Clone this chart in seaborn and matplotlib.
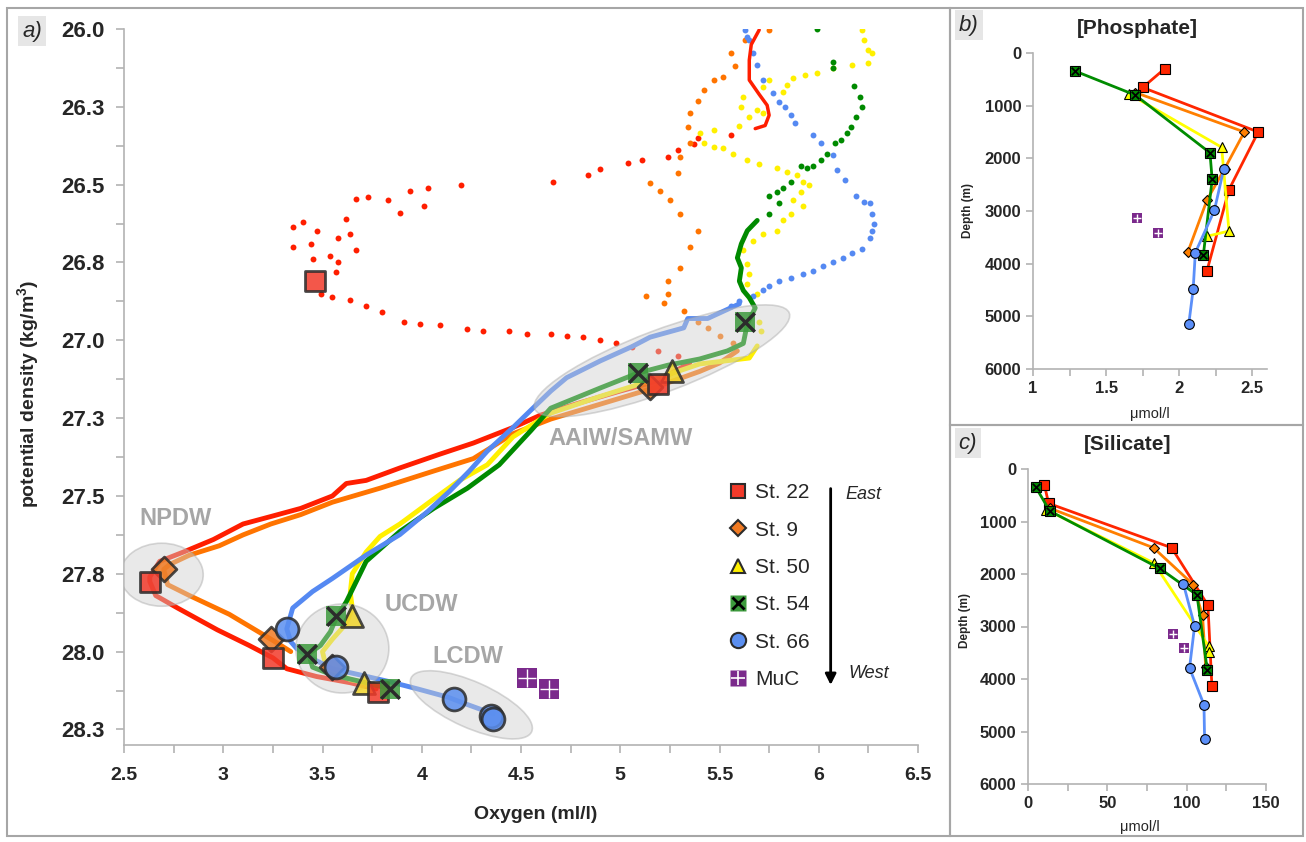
import numpy as np
import pandas as pd
import seaborn as sns
import matplotlib.pyplot as plt
from matplotlib.patches import Ellipse, Rectangle
from matplotlib.lines import Line2D
from matplotlib.legend_handler import HandlerTuple
from matplotlib.ticker import MultipleLocator, FixedLocator, FixedFormatter, FuncFormatter
from matplotlib.transforms import ScaledTranslation

# ---------------- panel a: oxygen vs potential density ----------------
st22_top_ox = [5.70, 5.66, 5.65, 5.65, 5.70, 5.74, 5.75, 5.73, 5.68]
st22_top_sig = [26.003, 26.05, 26.10, 26.164, 26.21, 26.245, 26.277, 26.31, 26.32]
st22_dots_ox = [5.56, 5.39, 5.37, 5.29, 5.24, 5.11, 5.04,
                4.90, 4.84, 4.66, 4.20, 4.03, 3.94, 4.01, 3.89, 3.83, 3.73, 3.67, 3.62, 3.40, 3.35, 3.47, 3.64,
                3.58, 3.35, 3.44, 3.67, 3.45, 3.54, 3.58, 3.57, 3.49, 3.55, 3.64, 3.72, 3.80, 3.91, 3.99, 4.09,
                4.23, 4.31, 4.44, 4.53, 4.65, 4.73, 4.81, 4.90, 4.98, 5.06, 5.19, 5.29]
st22_dots_sig = [26.34, 26.35, 26.37, 26.39,
                 26.41, 26.42, 26.43, 26.45, 26.47, 26.49, 26.50, 26.51, 26.52, 26.57, 26.59, 26.55, 26.54,
                 26.545, 26.61, 26.62, 26.635, 26.65, 26.66, 26.67, 26.70, 26.69, 26.71, 26.74, 26.73, 26.75,
                 26.78, 26.85, 26.86, 26.87, 26.89, 26.91, 26.94, 26.947, 26.95, 26.963, 26.97, 26.97, 26.98,
                 26.98, 26.986, 26.99, 27.00, 27.01, 27.02, 27.034, 27.05]
st22_line_ox = [5.35, 5.19, 5.00, 4.80, 4.60, 4.46, 4.26, 4.09, 3.89, 3.72, 3.62, 3.55, 3.39, 3.24, 3.10, 2.95,
                2.80, 2.68, 2.63, 2.63, 2.66, 2.77, 2.97, 3.13, 3.25, 3.32, 3.47, 3.64, 3.77]
st22_line_sig = [27.073, 27.13, 27.163, 27.20, 27.24, 27.28, 27.33, 27.366, 27.41, 27.45, 27.46, 27.50, 27.54,
                 27.566, 27.59, 27.64, 27.68, 27.71, 27.76, 27.775, 27.82, 27.86, 27.93, 27.98, 28.02, 28.055,
                 28.08, 28.10, 28.12]
st22_mk_ox = [3.46, 5.19, 2.63, 3.25, 3.78]
st22_mk_sig = [26.81, 27.14, 27.775, 28.02, 28.13]

st9_dots_ox = [5.75, 5.63, 5.56, 5.58, 5.52, 5.47, 5.42, 5.39, 5.35, 5.34, 5.35, 5.30, 5.29, 5.15, 5.20, 5.25,
               5.30, 5.39, 5.35, 5.30, 5.24, 5.24, 5.13, 5.22, 5.32, 5.39, 5.44, 5.50, 5.57]
st9_dots_sig = [26.003, 26.035, 26.077, 26.12, 26.155, 26.164, 26.197, 26.23, 26.27, 26.316, 26.367, 26.41,
                26.464, 26.496, 26.52, 26.55, 26.593, 26.648, 26.70, 26.767, 26.81, 26.85, 26.857, 26.88,
                26.905, 26.94, 26.96, 26.986, 27.01]
st9_line_ox = [5.59, 5.50, 5.40, 5.15, 4.90, 4.65, 4.46, 4.26, 4.06, 3.79, 3.55, 3.39, 3.24, 3.10, 2.98, 2.83,
               2.73, 2.70, 2.72, 2.83, 3.03, 3.24, 3.34]
st9_line_sig = [27.034, 27.073, 27.10, 27.157, 27.205, 27.253, 27.30, 27.38, 27.42, 27.475, 27.52, 27.56, 27.59,
                27.625, 27.66, 27.69, 27.72, 27.736, 27.785, 27.82, 27.88, 27.96, 28.00]
st9_mk_ox = [5.15, 2.70, 3.24, 3.55]
st9_mk_sig = [27.15, 27.736, 27.96, 28.05]

st50_dots_ox = [6.22, 6.23, 6.25, 6.27, 6.25, 6.17, 6.07, 5.99, 5.93, 5.87, 5.84, 5.82, 5.75, 5.72, 5.62, 5.61,
                5.65, 5.69, 5.72, 5.60, 5.47, 5.40, 5.42, 5.47, 5.52, 5.57, 5.64, 5.70, 5.79, 5.84, 5.89, 5.92,
                5.95, 5.91, 5.87, 5.92, 5.86, 5.82, 5.79, 5.72, 5.67, 5.62, 5.64, 5.65, 5.64, 5.69, 5.70, 5.71]
st50_dots_sig = [26.003, 26.035, 26.068, 26.077, 26.11, 26.116, 26.126, 26.14, 26.148, 26.158, 26.18, 26.203,
                 26.164, 26.187, 26.22, 26.25, 26.283, 26.26, 26.27, 26.31, 26.325, 26.335, 26.367, 26.38,
                 26.383, 26.40, 26.42, 26.435, 26.445, 26.46, 26.47, 26.49, 26.50, 26.525, 26.55, 26.567,
                 26.593, 26.615, 26.648, 26.657, 26.68, 26.71, 26.754, 26.786, 26.818, 26.85, 26.94, 26.97]
st50_line_ox = [5.69, 5.65, 5.40, 5.15, 4.90, 4.65, 4.60, 4.46, 4.33, 4.19, 4.06, 3.89, 3.79, 3.72, 3.65, 3.64,
                3.65, 3.62, 3.55, 3.50, 3.52, 3.64, 3.72]
st50_line_sig = [27.018, 27.057, 27.076, 27.13, 27.18, 27.234, 27.253, 27.31, 27.40, 27.45, 27.51, 27.59, 27.63,
                 27.68, 27.75, 27.81, 27.86, 27.91, 27.96, 28.00, 28.055, 28.09, 28.10]
st50_mk_ox = [5.26, 3.65, 3.71]
st50_mk_sig = [27.10, 27.885, 28.10]

st54_dots_ox = [5.99, 6.07, 6.07, 6.18, 6.21, 6.22, 6.19, 6.16, 6.14, 6.11, 6.08, 6.04, 6.01, 5.97, 5.94, 5.91,
                5.86, 5.82, 5.79, 5.75, 5.80, 5.75]
st54_dots_sig = [26.00, 26.106, 26.126, 26.184, 26.22, 26.25, 26.283, 26.316, 26.335, 26.358, 26.367, 26.40,
                 26.42, 26.44, 26.448, 26.44, 26.49, 26.51, 26.525, 26.535, 26.56, 26.593]
st54_line_ox = [5.69, 5.64, 5.61, 5.59, 5.61, 5.60, 5.62, 5.65, 5.68, 5.64, 5.62, 5.54, 5.40, 5.24, 5.09, 4.90,
                4.65, 4.55, 4.39, 4.23, 4.06, 3.89, 3.72, 3.62, 3.57, 3.54, 3.49, 3.43, 3.45, 3.55, 3.72,
                3.84]
st54_line_sig = [26.615, 26.648, 26.69, 26.735, 26.767, 26.81, 26.84, 26.863, 26.896, 26.947, 27.01, 27.034,
                 27.06, 27.08, 27.105, 27.153, 27.218, 27.29, 27.40, 27.475, 27.54, 27.614, 27.71,
                 27.84, 27.89, 27.936, 27.98, 28.007, 28.05, 28.075, 28.10, 28.12]
st54_mk_ox = [5.63, 5.09, 3.57, 3.42, 3.84]
st54_mk_sig = [26.94, 27.105, 27.885, 28.007, 28.12]

st66_dots_ox = [5.63, 5.64, 5.65, 5.67, 5.69, 5.72, 5.77, 5.80, 5.83, 5.86, 5.88, 5.97, 6.01, 6.07, 6.09, 6.13,
                6.19, 6.23, 6.26, 6.27, 6.28, 6.27, 6.26, 6.22, 6.17, 6.12, 6.07, 6.02, 5.97, 5.92, 5.86, 5.80,
                5.75, 5.72, 5.67, 5.60, 5.56]
st66_dots_sig = [26.003, 26.026, 26.035, 26.077, 26.116, 26.164, 26.206, 26.235, 26.25, 26.277, 26.303, 26.34,
                 26.367, 26.406, 26.454, 26.486, 26.535, 26.557, 26.56, 26.593, 26.625, 26.648, 26.67, 26.706,
                 26.718, 26.735, 26.75, 26.76, 26.776, 26.786, 26.80, 26.81, 26.825, 26.84, 26.857, 26.873,
                 26.89]
st66_line_ox = [5.60, 5.44, 5.34, 5.32, 5.15, 5.06, 4.90, 4.73, 4.65, 4.56, 4.46, 4.33, 4.24, 4.14, 4.03, 3.89,
                3.72, 3.55, 3.45, 3.35, 3.32, 3.34, 3.37, 3.45, 3.55, 3.69, 3.84, 3.98, 4.13, 4.23, 4.36]
st66_line_sig = [26.883, 26.93, 26.93, 26.96, 26.99, 27.02, 27.066, 27.12, 27.163, 27.218, 27.28, 27.356, 27.42,
                 27.485, 27.55, 27.624, 27.69, 27.765, 27.807, 27.86, 27.927, 27.968, 27.99, 28.023, 28.055,
                 28.075, 28.097, 28.12, 28.146, 28.17, 28.20]
st66_mk_ox = [3.32, 3.57, 4.16, 4.35, 4.36]
st66_mk_sig = [27.927, 28.05, 28.152, 28.207, 28.216]

muc_ox = [4.53, 4.64]
muc_sig = [28.084, 28.12]

sig_ticks = [26.0, 26.25, 26.5, 26.75, 27.0, 27.25, 27.5, 27.75, 28.0, 28.25]
sig_labels = ['26.0', '26.3', '26.5', '26.8', '27.0', '27.3', '27.5', '27.8', '28.0', '28.3']

# water mass regions: label, centre (oxygen, density), size in px, angle, label position
regions = [('NPDW', 2.69, 27.753, 83, 63, 0, 2.757, 27.572),
           ('UCDW', 3.60, 27.99, 93, 89, 0, 4.00, 27.85),
           ('LCDW', 4.25, 28.171, 132, 46, -24, 4.23, 28.017),
           ('AAIW/SAMW', 5.21, 27.066, 272, 62, 20.6, 5.00, 27.314)]

# ---------------- panels b, c: nutrients vs depth ----------------
st22_depth = [300, 655, 1500, 2595, 4130]
st22_po4 = [1.90, 1.75, 2.54, 2.34, 2.19]
st22_si = [10.3, 13.0, 90.5, 113.4, 115.9]
st9_depth = [750, 1500, 2200, 2790, 3770]
st9_po4 = [1.70, 2.445, 2.31, 2.19, 2.06]
st9_si = [14.0, 79.1, 104.1, 110.0, 112.0]
st50_depth = [775, 1790, 3380, 3480]
st50_po4 = [1.655, 2.29, 2.34, 2.19]
st50_si = [11.6, 79.3, 114.0, 114.0]
st54_depth = [340, 800, 1895, 2400, 3830]
st54_po4 = [1.285, 1.70, 2.21, 2.225, 2.165]
st54_si = [4.8, 13.7, 83.1, 106.5, 113.0]
st66_depth = [2195, 2990, 3790, 4490, 5150]
st66_po4 = [2.305, 2.24, 2.11, 2.095, 2.065]
st66_si = [98.0, 105.0, 101.8, 110.9, 111.3]
muc_depth = [3140, 3410]
muc_po4 = [1.713, 1.857]
muc_si = [91.3, 98.3]

trace_col = {'St. 22': '#ff1e00', 'St. 9': '#ff7400', 'St. 50': '#fff000', 'St. 54': '#008a00', 'St. 66': '#5589f2'}
mk_col = {'St. 22': '#f23a2a', 'St. 9': '#f07a22', 'St. 50': '#f2d52a', 'St. 54': '#3d9a3d', 'St. 66': '#5b8ff0'}
nut_col = {'St. 22': '#ff2600', 'St. 9': '#ff7f00', 'St. 50': '#ffff00', 'St. 54': '#008c00', 'St. 66': '#5b8ff9'}
purple = '#7b2a8c'

sns.set_style('ticks')
plt.rcParams['font.family'] = ['Liberation Sans', 'DejaVu Sans']
plt.rcParams['mathtext.default'] = 'regular'

W, H = 1306, 842
fig = plt.figure(figsize=(W / 100, H / 100), dpi=100)


def px_axes(l, t, r, b):
    return fig.add_axes([l / W, (H - b) / H, (r - l) / W, (b - t) / H])


def style_axes(ax):
    sns.despine(ax=ax)
    for s in ['left', 'bottom']:
        ax.spines[s].set_color('#b3b3b3')
        ax.spines[s].set_linewidth(1.2)
    ax.tick_params(which='both', color='#b3b3b3', width=1.2, direction='out', length=6)


def region(ax, x, y, w, h, angle):
    tr = fig.dpi_scale_trans + ScaledTranslation(x, y, ax.transData)
    ax.add_patch(Ellipse((0, 0), w / 100, h / 100, angle=angle, transform=tr,
                         fc='#cfcfcf', ec='#a8a8a8', alpha=0.45, lw=1.2, zorder=4))


# ---------- panel a ----------
ax = px_axes(124, 29, 918, 745)
dots = [(st22_dots_ox, st22_dots_sig, 'St. 22'), (st9_dots_ox, st9_dots_sig, 'St. 9'),
        (st50_dots_ox, st50_dots_sig, 'St. 50'), (st54_dots_ox, st54_dots_sig, 'St. 54'),
        (st66_dots_ox, st66_dots_sig, 'St. 66')]
for x, y, st in dots:
    sns.scatterplot(x=x, y=y, color=trace_col[st], s=18, linewidth=0, ax=ax, zorder=2)

lines = [(st22_top_ox, st22_top_sig, 'St. 22', 2.5), (st22_line_ox, st22_line_sig, 'St. 22', 3.5),
         (st9_line_ox, st9_line_sig, 'St. 9', 3.5), (st50_line_ox, st50_line_sig, 'St. 50', 3.5),
         (st54_line_ox, st54_line_sig, 'St. 54', 3.5), (st66_line_ox, st66_line_sig, 'St. 66', 3.5)]
for x, y, st, lw in lines:
    sns.lineplot(x=x, y=y, sort=False, estimator=None, color=trace_col[st], lw=lw, ax=ax, zorder=3)

for name, cx, cy, w, h, ang, tx, ty in regions:
    region(ax, cx, cy, w, h, ang)
    ax.text(tx, ty, name, color='#a6a6a6', fontsize=17, fontweight='bold', ha='center', va='center', zorder=8)

edge = dict(edgecolor='#2b2b2b', linewidth=2, alpha=0.85, zorder=6)
sns.scatterplot(x=st9_mk_ox, y=st9_mk_sig, marker='D', s=160, color=mk_col['St. 9'], ax=ax, **edge)
sns.scatterplot(x=st50_mk_ox, y=st50_mk_sig, marker='^', s=250, color=mk_col['St. 50'], ax=ax, **edge)
sns.scatterplot(x=st22_mk_ox, y=st22_mk_sig, marker='s', s=210, color=mk_col['St. 22'], ax=ax, **edge)
sns.scatterplot(x=st54_mk_ox, y=st54_mk_sig, marker='s', s=210, color=mk_col['St. 54'], linewidth=0,
                alpha=0.85, ax=ax, zorder=6)
sns.scatterplot(x=st54_mk_ox, y=st54_mk_sig, marker='x', s=180, color='#2b2b2b', linewidth=2.5, ax=ax, zorder=7)
sns.scatterplot(x=st66_mk_ox, y=st66_mk_sig, marker='o', s=270, color=mk_col['St. 66'], ax=ax, **edge)
sns.scatterplot(x=muc_ox, y=muc_sig, marker='s', s=210, color=purple, linewidth=0, ax=ax, zorder=6)
sns.scatterplot(x=muc_ox, y=muc_sig, marker='+', s=170, color='white', linewidth=1.0, ax=ax, zorder=7)

ax.set_xlim(2.5, 6.5)
ax.set_ylim(28.3, 26.0)
ax.xaxis.set_major_locator(MultipleLocator(0.5))
ax.xaxis.set_minor_locator(MultipleLocator(0.25))
ax.xaxis.set_major_formatter(FuncFormatter(lambda v, p: f'{v:g}'))
ax.yaxis.set_major_locator(FixedLocator(sig_ticks))
ax.yaxis.set_major_formatter(FixedFormatter(sig_labels))
ax.yaxis.set_minor_locator(MultipleLocator(0.125))
style_axes(ax)
for lab in ax.get_yticklabels():
    lab.set_fontsize(16)
    lab.set_fontweight('bold')
for lab in ax.get_xticklabels():
    lab.set_fontsize(14)
    lab.set_fontweight('bold')
ax.tick_params(axis='x', pad=10)
ax.tick_params(axis='y', pad=8)
ax.set_xlabel('Oxygen (ml/l)', fontsize=14, fontweight='bold')
ax.set_ylabel('potential density (kg/m$^3$)', fontsize=14, fontweight='bold')
ax.xaxis.set_label_coords(0.518, -0.085)
ax.yaxis.set_label_coords(-0.105, 0.49)

handles = [Line2D([], [], ls='none', marker='s', ms=10, mfc=mk_col['St. 22'], mec='#2b2b2b', mew=1.5),
           Line2D([], [], ls='none', marker='D', ms=8, mfc=mk_col['St. 9'], mec='#2b2b2b', mew=1.5),
           Line2D([], [], ls='none', marker='^', ms=10, mfc='#fff000', mec='#2b2b2b', mew=1.5),
           (Line2D([], [], ls='none', marker='s', ms=11, mfc='#3d9a3d', mec='none'),
            Line2D([], [], ls='none', marker='x', ms=9, mec='black', mew=2)),
           Line2D([], [], ls='none', marker='o', ms=11, mfc=mk_col['St. 66'], mec='#2b2b2b', mew=1.5),
           (Line2D([], [], ls='none', marker='s', ms=11, mfc=purple, mec='none'),
            Line2D([], [], ls='none', marker='+', ms=10, mec='white', mew=1.2))]
names = ['St. 22', 'St. 9', 'St. 50', 'St. 54', 'St. 66', 'MuC']
ax.legend(handles, names, handler_map={tuple: HandlerTuple(ndivide=1)}, loc='upper left',
          bbox_to_anchor=(0.75, 0.377), frameon=False, fontsize=15, labelspacing=0.88,
          handlelength=1.0, handletextpad=0.3, borderaxespad=0)
ax.annotate('', xy=(0.890, 0.080), xytext=(0.890, 0.362), xycoords='axes fraction',
            arrowprops=dict(arrowstyle='-|>', color='black', lw=2, mutation_scale=16))
ax.text(0.908, 0.350, 'East', transform=ax.transAxes, fontsize=13, style='italic', va='center')
ax.text(0.913, 0.100, 'West', transform=ax.transAxes, fontsize=13, style='italic', va='center')


# ---------- panels b and c ----------
def nutrient_panel(ax, key, xlim, major, minor, title, tx, ty):
    data = [(st22_depth, st22_po4, st22_si, 'St. 22', 's'), (st9_depth, st9_po4, st9_si, 'St. 9', 'D'),
            (st50_depth, st50_po4, st50_si, 'St. 50', '^'), (st54_depth, st54_po4, st54_si, 'St. 54', 's'),
            (st66_depth, st66_po4, st66_si, 'St. 66', 'o')]
    for depth, po4, si, st, mk in data:
        vals = po4 if key == 'po4' else si
        ms = 5 if mk == 'D' else 7
        sns.lineplot(x=vals, y=depth, sort=False, estimator=None, color=nut_col[st], lw=2, marker=mk,
                     markersize=ms, markeredgecolor='black', markeredgewidth=0.8, ax=ax)
        if st == 'St. 54':
            sns.scatterplot(x=vals, y=depth, marker='x', s=30, color='black', linewidth=1.3, ax=ax, zorder=5)
    muc_vals = muc_po4 if key == 'po4' else muc_si
    sns.scatterplot(x=muc_vals, y=muc_depth, marker='s', s=50, color=purple, linewidth=0, ax=ax, zorder=4)
    sns.scatterplot(x=muc_vals, y=muc_depth, marker='+', s=40, color='white', linewidth=1, ax=ax, zorder=5)
    ax.set_xlim(*xlim)
    ax.set_ylim(6000, 0)
    ax.xaxis.set_major_locator(MultipleLocator(major))
    ax.xaxis.set_minor_locator(MultipleLocator(minor))
    ax.xaxis.set_major_formatter(FuncFormatter(lambda v, p: f'{v:g}'))
    ax.yaxis.set_major_locator(MultipleLocator(1000))
    style_axes(ax)
    ax.tick_params(which='both', length=5)
    for lab in ax.get_xticklabels() + ax.get_yticklabels():
        lab.set_fontsize(12)
        lab.set_fontweight('bold')
    ax.set_ylabel('Depth (m)', fontsize=8.5, fontweight='bold')
    ax.set_xlabel('μmol/l', fontsize=10.5)
    fig.text(tx / W, 1 - ty / H, title, fontsize=15, fontweight='bold', ha='center', va='center')


axb = px_axes(1033, 53, 1267, 369)
nutrient_panel(axb, 'po4', (1, 2.6), 0.5, 0.25, '[Phosphate]', 1137, 28)
axb.yaxis.set_label_coords(-0.25, 0.5)
axb.xaxis.set_label_coords(0.5, -0.12)

axc = px_axes(1028, 469, 1266, 784)
nutrient_panel(axc, 'si', (0, 150), 50, 25, '[Silicate]', 1128, 445)
axc.yaxis.set_label_coords(-0.24, 0.52)
axc.xaxis.set_label_coords(0.47, -0.115)

# panel frames and letters
for l, t, r, b in [(7, 8, 950, 836), (950, 8, 1303, 425), (950, 425, 1303, 836)]:
    fig.add_artist(Rectangle((l / W, (H - b) / H), (r - l) / W, (b - t) / H, transform=fig.transFigure,
                             fill=False, ec='#a6a6a6', lw=1.5))
for lab, x, y in [('a)', 32, 31), ('b)', 969, 25), ('c)', 968, 443)]:
    fig.text(x / W, 1 - y / H, lab, fontsize=16, style='italic', ha='center', va='center',
             bbox=dict(fc='#e6e6e6', ec='none', pad=3))

fig.savefig('out.png', dpi=100)
